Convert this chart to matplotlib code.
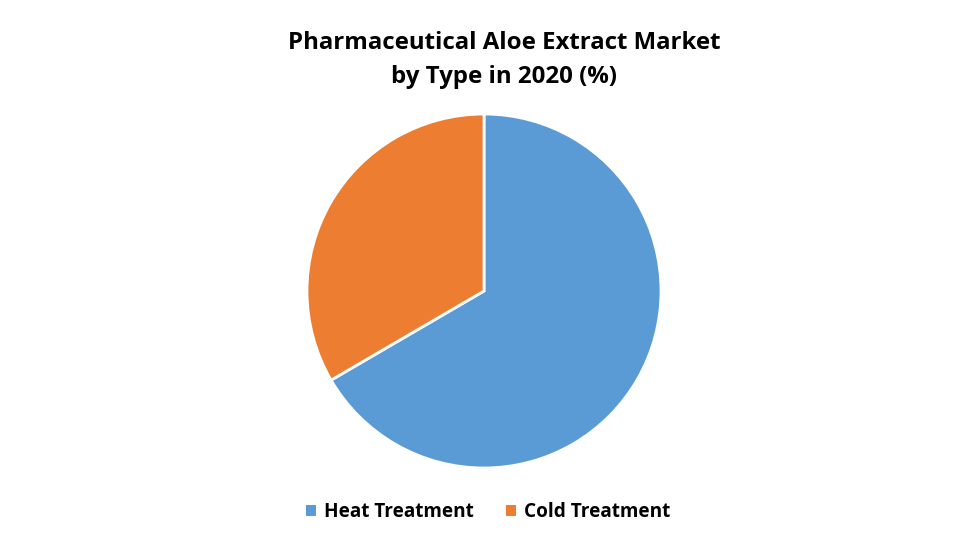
import matplotlib
matplotlib.use("Agg")
import matplotlib.pyplot as plt
from matplotlib.patches import Patch

plt.rcParams['font.family'] = ['Open Sans', 'DejaVu Sans']

labels = ['Heat Treatment', 'Cold Treatment']
shares = [66.6, 33.4]
colors = ['#5B9BD5', '#ED7D31']

W, H = 969, 545
fig = plt.figure(figsize=(W / 100, H / 100), dpi=100)

# pie centre ~ (484, 291) px, radius ~177 px
cx, cy, r = 484, 291, 177
ax = fig.add_axes([(cx - r) / W, (H - cy - r) / H, 2 * r / W, 2 * r / H])
ax.pie(shares, colors=colors, startangle=90, counterclock=False,
       wedgeprops=dict(edgecolor='white', linewidth=2))
ax.set_xlim(-1, 1)
ax.set_ylim(-1, 1)
ax.set_aspect('equal')
ax.axis('off')

fig.text(504 / W, 1 - 60 / H, 'Pharmaceutical Aloe Extract Market\nby Type in 2020 (%)',
         ha='center', va='center', fontsize=17.3, fontweight='bold',
         linespacing=1.55, color='black')

handles = [Patch(facecolor=c, edgecolor='none') for c in colors]
fig.legend(handles, labels, loc='center', bbox_to_anchor=(488 / W, 1 - 512 / H),
           ncol=2, frameon=False, handlelength=0.55, handleheight=0.55,
           handletextpad=0.4, columnspacing=1.7,
           prop={'weight': 'bold', 'size': 13.7})

fig.savefig('out.png', dpi=100)
